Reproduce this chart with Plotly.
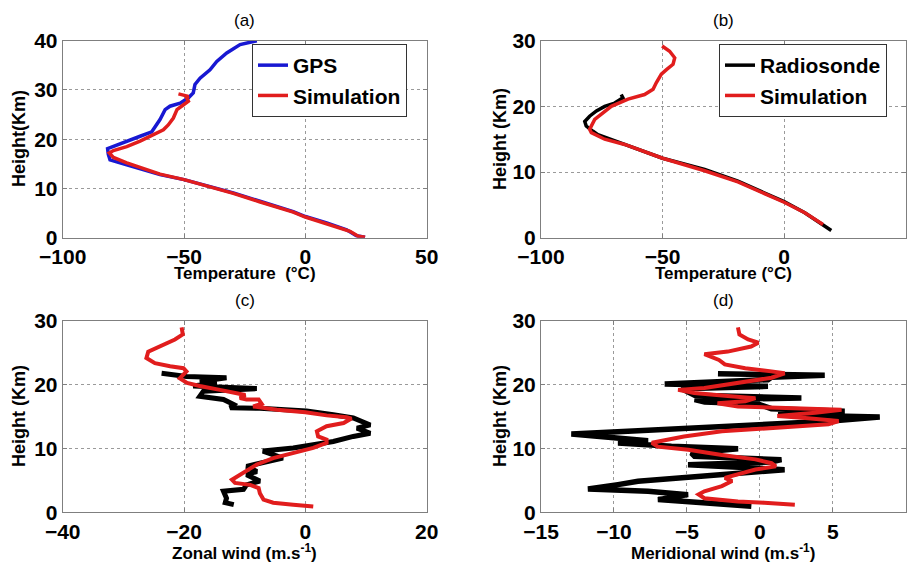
import plotly.graph_objects as go

# ---------------- data ----------------
# (a) GPS vs Simulation temperature
gps_T = [-20.0, -26.9, -32.4, -36.5, -39.3, -43.4, -45.5, -46.2, -48.2, -51.6, -55.8, -57.8,
         -59.9, -61.9, -63.3, -68.1, -73.6, -79.1, -81.5, -81.2, -80.5, -73.6, -59.9, -50.0,
         -39.3, -29.7, -18.7, -5.0, 0.0, 8.8, 17.0, 21.1, 24.6]
gps_H = [40.0, 39.2, 37.5, 35.8, 34.1, 32.4, 31.1, 29.4, 28.4, 27.3, 26.7, 26.0,
         24.0, 22.6, 21.5, 20.6, 19.6, 18.7, 18.1, 16.9, 15.8, 14.8, 12.8, 11.8,
         10.4, 9.1, 7.4, 5.3, 4.3, 3.0, 1.6, 0.4, 0.1]
simA_T = [-52.3, -48.2, -48.9, -48.2, -50.2, -52.9, -54.4, -56.5, -58.5, -62.6, -68.1, -73.6,
          -79.1, -80.8, -79.1, -73.6, -59.9, -50.0, -39.5, -29.7, -18.9, -5.0, 0.0, 8.8,
          18.4, 21.8, 24.6]
simA_H = [29.2, 28.7, 28.4, 27.7, 27.0, 26.0, 24.3, 22.9, 21.9, 20.9, 19.6, 18.5,
          17.7, 17.2, 16.3, 15.2, 12.9, 11.8, 10.4, 9.0, 7.3, 5.2, 4.2, 2.9,
          1.3, 0.3, 0.1]

# (b) Radiosonde vs Simulation temperature
rs_T = [-67.0, -66.3, -69.7, -73.8, -77.2, -80.0, -82.0, -81.4, -78.6, -76.6, -65.6, -50.0,
        -32.7, -19.0, -8.0, 0.0, 8.5, 15.3, 19.4]
rs_H = [21.8, 21.3, 20.5, 20.0, 19.3, 18.5, 17.7, 17.0, 16.2, 15.7, 14.2, 12.1,
        10.4, 8.6, 6.8, 5.5, 3.8, 2.2, 1.1]
simB_T = [-50.2, -47.1, -45.0, -45.7, -48.4, -50.5, -52.6, -53.9, -57.4, -64.2, -71.1, -75.2,
          -77.9, -80.0, -79.3, -73.8, -65.6, -50.0, -32.7, -19.0, 0.0, 8.5, 16.0]
simB_H = [29.2, 28.4, 27.4, 26.4, 25.6, 24.9, 23.6, 22.6, 21.8, 21.1, 20.0, 18.8,
          18.0, 16.5, 16.0, 15.0, 14.2, 12.1, 10.2, 8.5, 5.4, 3.8, 2.0]

# (c) Zonal wind
rsU = [-23.7, -19.6, -13.0, -17.4, -14.6, -18.5, -8.0, -16.8, -17.4, -13.5, -11.8, -12.4,
       -7.5, 0.2, 4.6, 7.9, 10.7, 8.5, 10.7, 7.9, 4.6, -2.0, -7.0, -3.7,
       -7.5, -9.7, -8.0, -9.7, -7.5, -9.7, -10.2, -13.5, -13.0, -13.2, -11.8]
rsU_H = [21.8, 21.3, 21.1, 20.5, 20.3, 19.8, 19.4, 19.0, 18.2, 17.7, 16.9, 16.4,
         16.3, 15.9, 15.3, 14.8, 13.7, 13.2, 12.4, 11.9, 11.1, 10.1, 9.6, 8.5,
         7.7, 7.2, 6.4, 5.9, 4.9, 4.3, 3.6, 3.3, 2.2, 1.5, 1.2]
simU = [-20.4, -20.2, -21.5, -24.0, -25.9, -26.2, -24.8, -22.3, -20.1, -19.6, -20.7, -19.5,
        -17.4, -14.1, -11.3, -9.9, -10.8, -9.7, -7.7, -7.2, -8.6, -4.7, 0.0, 3.5,
        6.8, 7.6, 6.3, 3.5, 1.9, 2.1, 3.5, 3.5, 1.3, -2.0, -5.3, -8.0,
        -9.9, -11.3, -12.1, -11.6, -9.1, -7.7, -7.5, -6.9, -5.3, -2.0, 1.3]
simU_H = [29.0, 27.9, 27.1, 26.0, 25.2, 24.2, 23.4, 22.9, 22.6, 22.1, 21.0, 20.3,
          19.8, 19.2, 18.7, 18.4, 17.9, 17.7, 17.7, 17.0, 16.6, 16.1, 15.7, 15.2,
          14.9, 14.7, 14.0, 13.5, 12.7, 11.9, 11.4, 10.9, 10.1, 9.3, 8.5, 7.5,
          6.4, 5.6, 5.1, 4.6, 4.3, 3.8, 3.0, 2.0, 1.5, 1.2, 0.9]

# (d) Meridional wind
rsV = [-2.87, 4.45, 0.79, 0.56, -6.52, 0.56, -5.38, -4.47, 2.85, -4.47, -3.78, -0.12,
       0.79, 5.82, 1.25, 8.22, 4.68, -1.49, -8.35, -12.92, -9.49, -7.66, -9.72, -6.06,
       -1.49, -4.69, -4.47, 1.48, 0.79, -4.92, 1.70, -2.41, -6.06, -8.35, -9.72, -11.78,
       -7.66, -4.92, -6.98, -3.78, -0.58]
rsV_H = [21.74, 21.48, 21.17, 20.80, 20.12, 19.75, 19.39, 18.34, 17.92, 17.66, 17.30, 16.99,
         16.25, 15.83, 15.31, 14.95, 14.27, 13.48, 12.80, 12.28, 11.65, 11.23, 10.87, 10.35,
         9.98, 9.30, 8.78, 8.26, 7.89, 7.47, 6.69, 5.91, 5.38, 4.86, 4.34, 3.66,
         3.29, 2.77, 1.99, 1.57, 0.94]
simV = [-1.5, -1.4, -0.8, -0.1, -0.6, -2.2, -3.8, -3.3, -2.8, -2.4, -1.0, 0.8,
        1.7, 0.8, -1.5, -3.8, -5.6, -4.5, -2.0, -0.3, -1.0, -2.9, -1.5, 1.9,
        5.6, 3.8, 1.2, 3.1, 5.4, 4.7, 0.8, -2.6, -5.2, -6.5, -7.4, -7.0,
        -4.9, -2.6, -0.3, 0.8, 1.1, -0.3, -1.7, -2.4, -1.9, -2.6, -3.8, -4.2,
        -3.8, -1.5, 0.3, 2.4]
simV_H = [29.0, 27.9, 27.1, 26.6, 26.0, 25.2, 24.8, 24.3, 23.9, 23.2, 22.6, 22.1,
          21.8, 21.1, 20.3, 19.5, 19.2, 18.7, 18.2, 17.9, 17.4, 17.1, 16.6, 16.4,
          16.1, 15.6, 15.1, 14.8, 14.3, 13.8, 13.2, 12.7, 11.9, 11.4, 10.9, 10.3,
          9.8, 9.0, 8.3, 7.7, 7.2, 6.7, 5.9, 5.4, 4.9, 4.1, 3.3, 2.8,
          2.2, 1.7, 1.5, 1.2]

xticks_T = [-100, -50, 0, 50]
xticks_U = [-40, -20, 0, 20]
xticks_V = [-15, -10, -5, 0, 5, 10]
yticks_40 = [0, 10, 20, 30, 40]
yticks_30 = [0, 10, 20, 30]

BLUE = "#1818d2"
RED = "#e11d1d"
BLACK = "#000000"

fig = go.Figure()

fig.add_trace(go.Scatter(x=gps_T, y=gps_H, mode="lines", name="GPS",
                         line=dict(color=BLUE, width=3.5), xaxis="x", yaxis="y", legend="legend"))
fig.add_trace(go.Scatter(x=simA_T, y=simA_H, mode="lines", name="Simulation",
                         line=dict(color=RED, width=3.5), xaxis="x", yaxis="y", legend="legend"))
fig.add_trace(go.Scatter(x=rs_T, y=rs_H, mode="lines", name="Radiosonde",
                         line=dict(color=BLACK, width=3.5), xaxis="x2", yaxis="y2", legend="legend2"))
fig.add_trace(go.Scatter(x=simB_T, y=simB_H, mode="lines", name="Simulation",
                         line=dict(color=RED, width=3.5), xaxis="x2", yaxis="y2", legend="legend2"))
fig.add_trace(go.Scatter(x=rsU, y=rsU_H, mode="lines", showlegend=False,
                         line=dict(color=BLACK, width=5), xaxis="x3", yaxis="y3"))
fig.add_trace(go.Scatter(x=simU, y=simU_H, mode="lines", showlegend=False,
                         line=dict(color=RED, width=4), xaxis="x3", yaxis="y3"))
fig.add_trace(go.Scatter(x=rsV, y=rsV_H, mode="lines", showlegend=False,
                         line=dict(color=BLACK, width=5.5), xaxis="x4", yaxis="y4"))
fig.add_trace(go.Scatter(x=simV, y=simV_H, mode="lines", showlegend=False,
                         line=dict(color=RED, width=4), xaxis="x4", yaxis="y4"))

W, H = 917, 564
FONT = "Liberation Sans, Arial, sans-serif"
tickfont = dict(family=FONT, size=21, color="black", weight="bold")

def ax(domain, rng, tickvals, anchor):
    return dict(domain=domain, range=rng, tickvals=tickvals, anchor=anchor,
                automargin=False,
                showgrid=True, gridcolor="#9a9a9a", griddash="dot", gridwidth=1,
                zeroline=False, showline=True, linecolor="#7f7f7f", linewidth=1,
                mirror="ticks", ticks="inside", ticklen=4, tickcolor="#7f7f7f",
                tickfont=tickfont, fixedrange=True)

xL = [62.7 / W, 426.7 / W]
xR = [541 / W, 905.7 / W]
yT = [1 - 237.7 / H, 1 - 40.7 / H]
yB = [1 - 512.3 / H, 1 - 321 / H]

legfont = dict(family=FONT, size=21, color="black", weight="bold")
layout = dict(
    template="none",
    width=W, height=H, margin=dict(l=0, r=0, t=0, b=0, pad=0, autoexpand=False),
    paper_bgcolor="white", plot_bgcolor="white",
    xaxis=ax(xL, [-100, 50], xticks_T, "y"),
    yaxis=ax(yT, [0, 40], yticks_40, "x"),
    xaxis2=ax(xR, [-100, 50], xticks_T, "y2"),
    yaxis2=ax(yT, [0, 30], yticks_30, "x2"),
    xaxis3=ax(xL, [-40, 20], xticks_U, "y3"),
    yaxis3=ax(yB, [0, 30], yticks_30, "x3"),
    xaxis4=ax(xR, [-15, 10], xticks_V, "y4"),
    yaxis4=ax(yB, [0, 30], yticks_30, "x4"),
    legend=dict(x=252 / W, y=1 - 44 / H, xanchor="left", yanchor="top",
                bgcolor="white", bordercolor="#333333", borderwidth=1,
                font=legfont, tracegroupgap=0, itemwidth=30),
    legend2=dict(x=719 / W, y=1 - 44 / H, xanchor="left", yanchor="top",
                 bgcolor="white", bordercolor="#333333", borderwidth=1,
                 font=legfont, tracegroupgap=0, itemwidth=30),
)

ann = []
def txt(x, y, t, size, angle=0):
    ann.append(dict(x=x / W, y=1 - y / H, xref="paper", yref="paper", text=t, showarrow=False,
                    textangle=angle, xanchor="center", yanchor="middle",
                    font=dict(family=FONT, size=size, color="black")))

txt(244.7, 20, "(a)", 17)
txt(723.3, 20, "(b)", 17)
txt(244.7, 300, "(c)", 17)
txt(723.3, 300, "(d)", 17)
txt(244.7, 273, "<b>Temperature  (°C)</b>", 17)
txt(723.3, 273, "<b>Temperature (°C)</b>", 17)
txt(244.7, 552, "<b>Zonal wind (m.s<sup>-1</sup>)</b>", 17)
txt(723.3, 552, "<b>Meridional wind (m.s<sup>-1</sup>)</b>", 17)
txt(19, 139, "<b>Height(Km)</b>", 18, -90)
txt(500, 139, "<b>Height (Km)</b>", 18, -90)
txt(19, 416, "<b>Height (Km)</b>", 18, -90)
txt(500, 416, "<b>Height (Km)</b>", 18, -90)
layout["annotations"] = ann

fig.update_layout(**layout)
fig.write_html("out.html")
